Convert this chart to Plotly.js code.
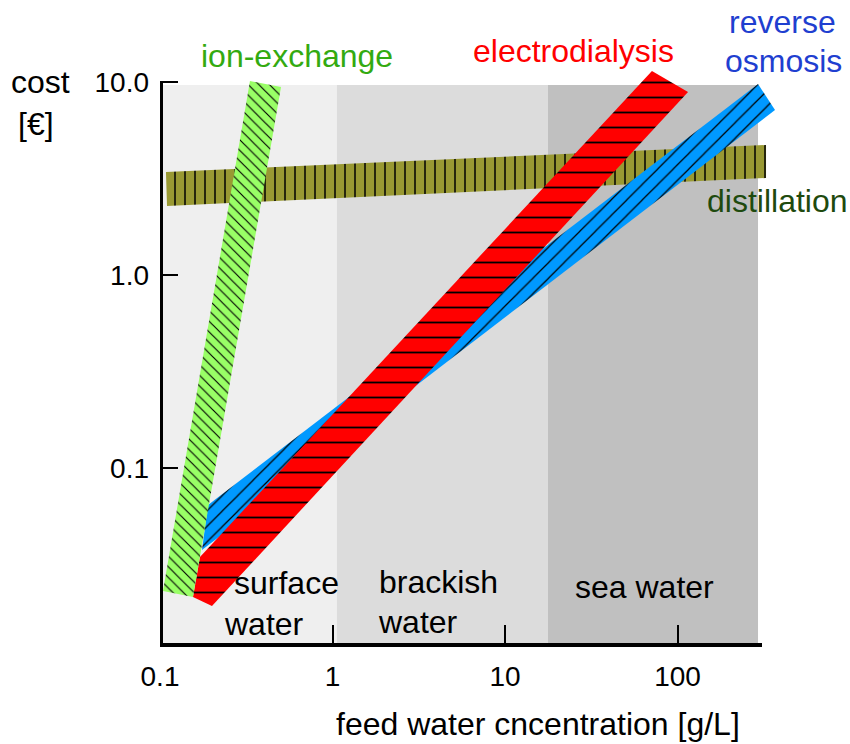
<!DOCTYPE html>
<html>
<head>
<meta charset="utf-8">
<script src="https://cdn.plot.ly/plotly-3.0.1.min.js"></script>
<style>html,body{margin:0;padding:0;background:#fff;}#chart{width:850px;height:744px;}</style>
</head>
<body>
<div id="chart"></div>
<script>
// ---- data (feed water concentration [g/L] vs cost [€]) ----
const ionExchangeX = [0.1041, 0.3323, 0.5029, 0.1553];
const ionExchangeY = [0.02306, 10.12, 9.42, 0.02147];

const electrodialysisX = [0.1705, 71.1, 115.1, 0.2001, 0.1553];
const electrodialysisY = [0.03459, 11.40, 8.874, 0.01927, 0.02147];

const reverseOsmosisX = [0.1751, 0.1898, 293.0, 367.5];
const reverseOsmosisY = [0.03758, 0.06431, 9.764, 7.159];

const distillationX = [0.1083, 326.0, 326.0, 0.1098];
const distillationY = [3.418, 4.717, 3.182, 2.278];

const regionNames = ['surface water', 'brackish water', 'sea water'];
const regionStart = [0.1, 1.06, 17.7];
const regionEnd = [1.06, 17.7, 293.0];
const regionColors = ['#efefef', '#dcdcdc', '#c0c0c0'];
const regionTop = 9.65;
const regionBottom = 0.0121;

const xTickVals = [0.1, 1, 10, 100];
const xTickText = ['0.1', '1', '10', '100'];
const yTickVals = [0.1, 1, 10];
const yTickText = ['0.1', '1.0', '10.0'];

// ---- layout helpers (pixel -> paper) ----
const L = 160, R = 70, T = 60, B = 99, W = 850, H = 744;
const PW = W - L - R, PH = H - T - B;
const px = v => (v - L) / PW;
const py = v => (H - B - v) / PH;
const FONT = 'Liberation Sans, Arial, sans-serif';

const traces = [];
// region shading
regionNames.forEach((n, i) => {
  traces.push({
    type: 'scatter', mode: 'lines', name: n,
    x: [regionStart[i], regionEnd[i], regionEnd[i], regionStart[i]],
    y: [regionBottom, regionBottom, regionTop, regionTop],
    fill: 'toself', fillcolor: regionColors[i],
    line: {width: 0, color: regionColors[i]}, hoverinfo: 'skip'
  });
});

function band(name, x, y, bg, shape, size, solidity) {
  return {
    type: 'scatter', mode: 'lines', name: name, x: x, y: y,
    fill: 'toself', fillcolor: bg,
    fillpattern: {shape: shape, bgcolor: bg, fgcolor: '#000000', size: size, solidity: solidity},
    line: {width: 0, color: bg}, hoverinfo: 'skip'
  };
}
traces.push(band('distillation', distillationX, distillationY, '#999933', '|', 10, 0.15));
traces.push(band('reverse osmosis', reverseOsmosisX, reverseOsmosisY, '#0099ff', '/', 11, 0.11));
traces.push(band('electrodialysis', electrodialysisX, electrodialysisY, '#ff0000', '-', 15, 0.12));
traces.push(band('ion-exchange', ionExchangeX, ionExchangeY, '#99ff66', '\\', 7.5, 0.15));

function ann(text, xPix, yPix, color, anchor) {
  return {
    text: text, x: px(xPix), y: py(yPix), xref: 'paper', yref: 'paper',
    xanchor: anchor || 'center', yanchor: 'middle', showarrow: false,
    font: {family: FONT, size: 32, color: color || '#000000'}
  };
}

const layout = {
  width: W, height: H,
  margin: {l: L, r: R, t: T, b: B, pad: 0},
  paper_bgcolor: '#ffffff', plot_bgcolor: '#ffffff',
  showlegend: false,
  xaxis: {
    type: 'log', range: [-1, -1 + PW / 172.5],
    showgrid: false, zeroline: false, showline: false,
    ticks: 'inside', ticklen: 20, tickwidth: 2, tickcolor: '#000000',
    tickmode: 'array', tickvals: xTickVals, ticktext: xTickText,
    tickfont: {family: FONT, size: 28, color: '#000000'},
    ticklabelstandoff: 12, fixedrange: true
  },
  yaxis: {
    type: 'log', range: [1 - (H - B - 82) / 193, 1 + (82 - T) / 193],
    showgrid: false, zeroline: false, showline: false,
    ticks: 'inside', ticklen: 18, tickwidth: 2, tickcolor: '#000000',
    tickmode: 'array', tickvals: yTickVals, ticktext: yTickText,
    tickfont: {family: FONT, size: 28, color: '#000000'},
    ticklabelstandoff: 10, fixedrange: true
  },
  shapes: [
    {type: 'line', xref: 'paper', yref: 'paper', x0: 0, x1: px(762), y0: py(645), y1: py(645),
     line: {color: '#000000', width: 4}, layer: 'above'},
    {type: 'line', xref: 'paper', yref: 'paper', x0: px(161.5), x1: px(161.5), y0: py(646), y1: py(81),
     line: {color: '#000000', width: 3}, layer: 'above'}
  ],
  annotations: [
    ann('cost', 40, 82),
    ann('[€]', 36, 124),
    ann('ion-exchange', 297, 56, '#33aa11'),
    ann('electrodialysis', 573, 51, '#ff0000'),
    ann('reverse', 782, 22, '#1f3fd0'),
    ann('osmosis', 783, 61, '#1f3fd0'),
    ann('distillation', 777, 201, '#1e4a0e'),
    ann('surface', 286, 583),
    ann('water', 264, 624),
    ann('brackish', 438, 582),
    ann('water', 418, 622),
    ann('sea water', 644, 587),
    ann('feed water cncentration [g/L]', 538, 724)
  ]
};

Plotly.newPlot('chart', traces, layout, {displayModeBar: false, staticPlot: true});
</script>
</body>
</html>
